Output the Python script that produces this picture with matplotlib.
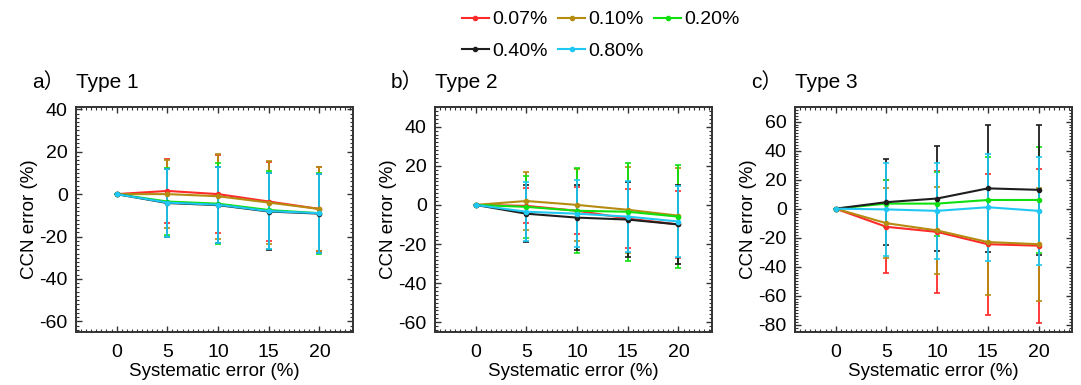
import numpy as np
import matplotlib
matplotlib.use('Agg')
import matplotlib.pyplot as plt
from matplotlib.lines import Line2D
from matplotlib.ticker import AutoMinorLocator

plt.rcParams['font.family'] = ['Liberation Sans', 'Noto Sans CJK SC', 'DejaVu Sans']
plt.rcParams['axes.unicode_minus'] = False

# Dados
sys_err = [0, 5, 10, 15, 20]
labels = ['0.07%', '0.10%', '0.20%', '0.40%', '0.80%']
colors = ['#FF2A2A', '#B58B10', '#10E010', '#1E1E1E', '#1FC8F2']

# Type 1
t1_mean = {
    '0.07%': [0, 1.5, 0, -3.5, -7],
    '0.10%': [0, 0, -1, -4, -7],
    '0.20%': [0, -3.5, -4.5, -7.5, -9],
    '0.40%': [0, -4.2, -5.2, -8.2, -9.2],
    '0.80%': [0, -4, -5, -8, -9],
}
t1_err = {
    '0.07%': [0, 15, 18.5, 18.5, 20],
    '0.10%': [0, 16, 20, 19.5, 20],
    '0.20%': [0, 16, 19, 18.5, 19],
    '0.40%': [0, 16, 18, 18, 18.5],
    '0.80%': [0, 16, 18, 18, 18.7],
}

# Type 2
t2_mean = {
    '0.07%': [0, -0.5, -3, -7, -10],
    '0.10%': [0, 2, 0, -2.5, -5.5],
    '0.20%': [0, -1, -3, -3.5, -6],
    '0.40%': [0, -4.5, -6.5, -7.5, -10],
    '0.80%': [0, -3.5, -4.5, -6, -8.5],
}
t2_err = {
    '0.07%': [0, 9, 12, 15, 17],
    '0.10%': [0, 15, 18.5, 22, 24.5],
    '0.20%': [0, 16, 21.7, 25, 26.5],
    '0.40%': [0, 14.5, 16.5, 19, 20],
    '0.80%': [0, 15, 17, 18, 18],
}

# Type 3
t3_mean = {
    '0.07%': [0, -12.5, -16, -24.5, -25.5],
    '0.10%': [0, -10, -15, -23, -24.5],
    '0.20%': [0, 3.5, 3.5, 6, 6],
    '0.40%': [0, 4.5, 7, 14, 13],
    '0.80%': [0, -0.5, -1.5, 1, -1.5],
}
t3_err = {
    '0.07%': [0, 32, 42, 48.5, 53],
    '0.10%': [0, 24, 30, 36.5, 39],
    '0.20%': [0, 16, 22, 29.5, 36.5],
    '0.40%': [0, 29.5, 36.5, 44, 45],
    '0.80%': [0, 32, 33, 37, 37],
}

panels = [
    ('a）', 'Type 1', t1_mean, t1_err, (-65, 41), [-60, -40, -20, 0, 20, 40]),
    ('b）', 'Type 2', t2_mean, t2_err, (-65, 50), [-60, -40, -20, 0, 20, 40]),
    ('c）', 'Type 3', t3_mean, t3_err, (-85, 70), [-80, -60, -40, -20, 0, 20, 40, 60]),
]
lefts = [0.0703, 0.4024, 0.7355]

fig = plt.figure(figsize=(10.81, 3.85), dpi=100)

for i, (letra, titulo, medias, erros, ylim, yticks) in enumerate(panels):
    ax = fig.add_axes([lefts[i], 0.1377, 0.2562, 0.584])
    for lab, cor in zip(labels, colors):
        ax.errorbar(sys_err, medias[lab], yerr=erros[lab], color=cor,
                    lw=1.5, marker='o', ms=3, capsize=2, elinewidth=1.3,
                    capthick=1.2)
    ax.set_xlim(-4, 23.3)
    ax.set_ylim(*ylim)
    ax.set_xticks([0, 5, 10, 15, 20])
    ax.set_yticks(yticks)
    ax.xaxis.set_minor_locator(AutoMinorLocator(10))
    ax.yaxis.set_minor_locator(AutoMinorLocator(10))
    ax.tick_params(which='both', direction='in', top=True, right=True,
                   labelsize=14, color='#333333')
    ax.tick_params(axis='x', which='major', pad=9)
    ax.tick_params(axis='y', which='major', pad=6)
    ax.tick_params(which='major', length=4, width=1)
    ax.tick_params(which='minor', length=2, width=0.8)
    for s in ax.spines.values():
        s.set_linewidth(1.4)
        s.set_color('#333333')
    ax.set_xlabel('Systematic error (%)', fontsize=13.5, labelpad=1)
    ax.set_ylabel('CCN error (%)', fontsize=13.5, labelpad=1)
    ax.text(-0.159, 1.084, letra, transform=ax.transAxes, fontsize=15,
            va='baseline', ha='left')
    ax.text(0.0, 1.084, titulo, transform=ax.transAxes, fontsize=15,
            va='baseline', ha='left')

# legenda sem barras de erro, só linha com ponto
handles = [Line2D([], [], color=c, lw=1.5, marker='o', ms=3) for c in colors]
ordem = [0, 3, 1, 4, 2]  # para preencher as linhas da legenda
fig.legend([handles[k] for k in ordem], [labels[k] for k in ordem],
           ncol=3, loc='upper left', bbox_to_anchor=(452 / 1081, 0.997),
           frameon=False, fontsize=14, handlelength=1.4, handletextpad=0.15,
           columnspacing=0.55, labelspacing=0.7, borderpad=0)

fig.savefig('out.png', dpi=100)
